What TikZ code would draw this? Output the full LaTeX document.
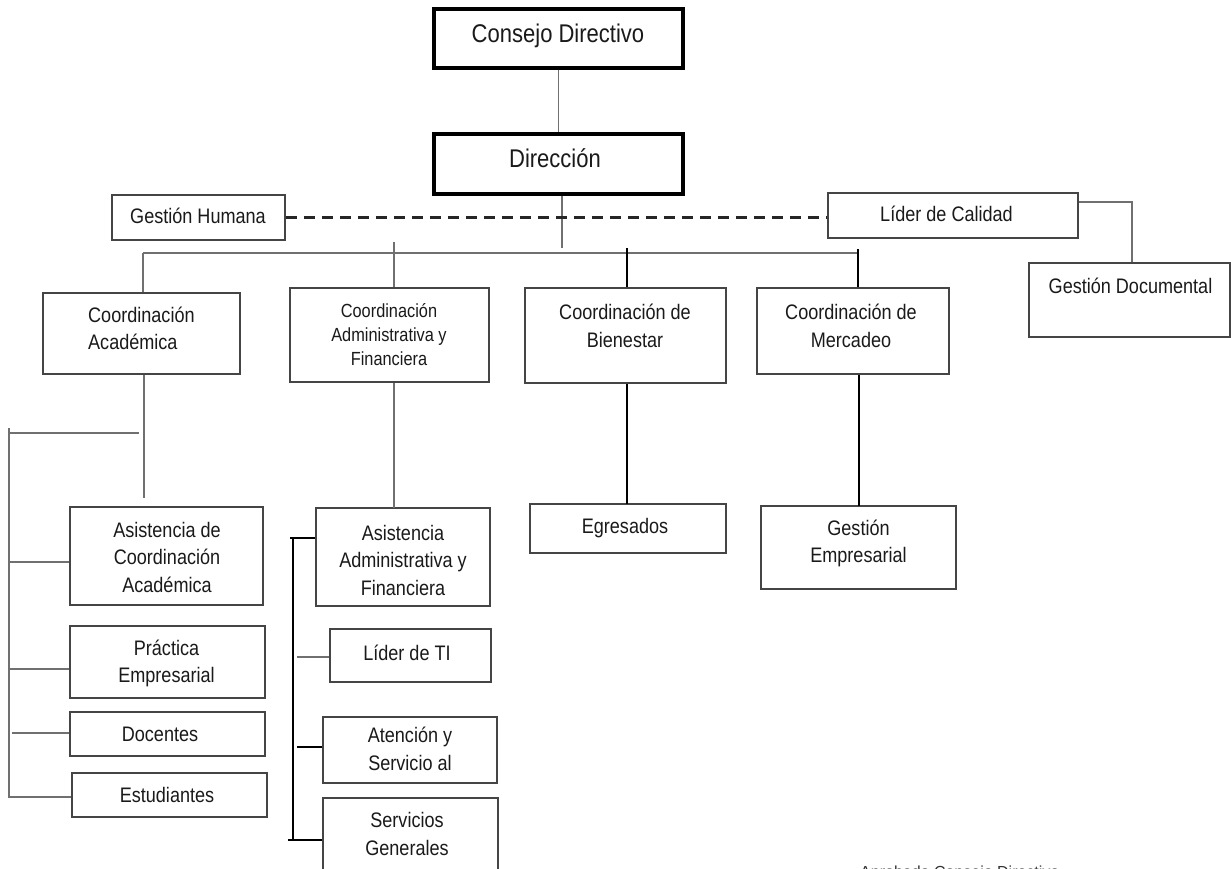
\documentclass[tikz,border=0pt]{standalone}
\usepackage{fontspec}
\setmainfont[FakeStretch=0.86]{Liberation Sans}
\newfontfamily\plainfont{Liberation Sans}
\definecolor{boxgray}{HTML}{454545}
\definecolor{linegray}{HTML}{707070}
\definecolor{txtc}{HTML}{1A1A1A}
\tikzset{
  box/.style={draw=boxgray, line width=1.9pt, rectangle, inner sep=0pt},
  bigbox/.style={draw=black, line width=3.4pt, rectangle, inner sep=0pt},
  txt/.style={inner sep=0pt, align=center, text=txtc},
  fbig/.style={font=\fontsize{25.6}{32}\selectfont},
  fmid/.style={font=\fontsize{21}{27.5}\selectfont},
  fsml/.style={font=\fontsize{19}{24}\selectfont},
  conn/.style={draw=linegray, line width=1.5pt},
  connk/.style={draw=black, line width=1.8pt},
  dashline/.style={draw=black!85, line width=2.2pt, dash pattern=on 11pt off 7pt},
}
\newcommand\bx[6]{\node[#6, minimum width={#4-#2}, minimum height={#5-#3}] (#1) at ({(#2+#4)/2},{(#3+#5)/2}) {};}
\begin{document}
\begin{tikzpicture}[x=1pt, y=-1pt]
\useasboundingbox[fill=white] (0,0) rectangle (1231,869);
% boxes
\bx{cd}{434}{9}{683}{68}{bigbox}
\bx{dir}{434}{134}{683}{194}{bigbox}
\bx{gh}{112}{195}{285}{240}{box}
\bx{ldc}{828}{193}{1078}{238}{box}
\bx{gd}{1029}{263}{1230}{337}{box}
\bx{ca}{43}{293}{240}{374}{box}
\bx{caf}{290}{288}{489}{382}{box}
\bx{cb}{525}{288}{726}{383}{box}
\bx{cm}{757}{288}{949}{374}{box}
\bx{asc}{70}{507}{263}{605}{box}
\bx{pe}{70}{626}{265}{698}{box}
\bx{doc}{70}{712}{265}{756}{box}
\bx{est}{72}{773}{267}{817}{box}
\bx{asaf}{316}{508}{490}{606}{box}
\bx{lti}{330}{629}{491}{682}{box}
\bx{ats}{323}{717}{497}{783}{box}
\bx{sg}{323}{798}{498}{885}{box}
\bx{egr}{530}{504}{726}{553}{box}
\bx{ge}{761}{506}{956}{589}{box}
% texts
\node[txt,fbig] (cd-t) at (558,36.6) {\strut Consejo Directivo};
\node[txt,fbig] (dir-t) at (555,161.6) {\strut Dirección};
\node[txt,fmid] (gh-t) at (198,217.5) {\strut Gestión Humana};
\node[txt,fmid] (ldc-t) at (946.5,216.5) {\strut Líder de Calidad};
\node[txt,fmid] (gd-t) at (1130.5,287.5) {\strut Gestión Documental};
\node[txt,fmid,align=left,anchor=west] (ca-t) at (88,330.5) {\strut Coordinación\\\strut Académica};
\node[txt,fsml] (caf-t) at (389,336.2) {\strut Coordinación\\\strut Administrativa y\\\strut Financiera};
\node[txt,fmid] (cb-t) at (625,328) {\strut Coordinación de\\\strut Bienestar};
\node[txt,fmid] (cm-t) at (851,328) {\strut Coordinación de\\\strut Mercadeo};
\node[txt,fmid] (asc-t) at (167,559) {\strut Asistencia de\\\strut Coordinación\\\strut Académica};
\node[txt,fmid] (pe-t) at (166.5,663.5) {\strut Práctica\\\strut Empresarial};
\node[txt,fmid] (doc-t) at (160,735.5) {\strut Docentes};
\node[txt,fmid] (est-t) at (167,796.5) {\strut Estudiantes};
\node[txt,fmid] (asaf-t) at (403,562) {\strut Asistencia\\\strut Administrativa y\\\strut Financiera};
\node[txt,fmid] (lti-t) at (407,654.5) {\strut Líder de TI};
\node[txt,fmid] (ats-t) at (410,751) {\strut Atención y\\\strut Servicio al};
\node[txt,fmid] (sg-t) at (407,836) {\strut Servicios\\\strut Generales};
\node[txt,fmid] (egr-t) at (625,527.5) {\strut Egresados};
\node[txt,fmid] (ge-t) at (858.5,543.5) {\strut Gestión\\\strut Empresarial};
\node[anchor=base west, inner sep=0pt, text=black!80, font=\plainfont\fontsize{16}{19}\selectfont] (apr) at (860,877) {Aprobado Consejo Directivo};
% coordinates
\coordinate (dirD) at (562,248);
\coordinate (busL) at (143,253);
\coordinate (busR) at (858,253);
\coordinate (cafU) at (394,242);
\coordinate (cbU) at (627,248);
\coordinate (cmU) at (858,249);
\coordinate (gdj) at (1132,202);
\coordinate (caD) at (144,498);
\coordinate (cafD) at (394,508);
\coordinate (cbD) at (627,504);
\coordinate (cmD) at (859,506);
\coordinate (lbH1) at (9,433);
\coordinate (lbH2) at (139,433);
\coordinate (lbT) at (9,428);
\coordinate (lbB) at (9,797);
\coordinate (lb1) at (9,562);
\coordinate (lb2) at (9,669);
\coordinate (lb3) at (12,733);
\coordinate (lbT2) at (290,538);
\coordinate (rbT) at (293,538);
\coordinate (rbB) at (293,840);
\coordinate (rb2) at (297,657);
\coordinate (rb3) at (297,747);
\coordinate (rb4) at (288,840);
% connectors
\draw[conn] (cd.south) -- (dir.north);
\draw[conn] (dir.south -| dirD) -- (dirD);
\draw[dashline] (gh.east) -- (gh.east -| ldc.west);
\draw[conn] (busL) -- (busR);
\draw[conn] (busL) -- (busL |- ca.north);
\draw[conn] (cafU) -- (cafU |- caf.north);
\draw[connk] (cbU) -- (cbU |- cb.north);
\draw[connk] (cmU) -- (cmU |- cm.north);
\draw[conn] (gdj -| ldc.east) -- (gdj) -- (gdj |- gd.north);
\draw[conn] (caD |- ca.south) -- (caD);
\draw[conn] (lbH1) -- (lbH2);
\draw[conn] (lbT) -- (lbB) -- (lbB -| est.west);
\draw[conn] (lb1) -- (lb1 -| asc.west);
\draw[conn] (lb2) -- (lb2 -| pe.west);
\draw[conn] (lb3) -- (lb3 -| doc.west);
\draw[conn] (cafD |- caf.south) -- (cafD);
\draw[connk] (lbT2) -- (lbT2 -| asaf.west);
\draw[connk] (rbT) -- (rbB);
\draw[conn] (rb2) -- (rb2 -| lti.west);
\draw[connk] (rb3) -- (rb3 -| ats.west);
\draw[connk] (rb4) -- (rb4 -| sg.west);
\draw[connk] (cbD |- cb.south) -- (cbD);
\draw[connk] (cmD |- cm.south) -- (cmD);
\end{tikzpicture}
\end{document}
